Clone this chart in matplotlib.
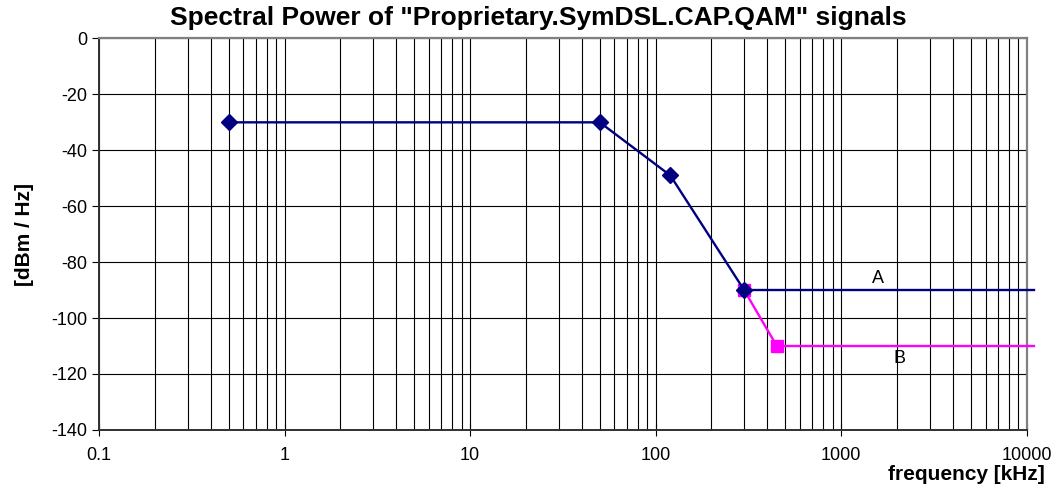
import numpy as np
import matplotlib.pyplot as plt
from matplotlib.ticker import LogLocator, FixedLocator, NullFormatter

plt.rcParams['font.family'] = ['Liberation Sans', 'DejaVu Sans']
plt.rcParams['axes.unicode_minus'] = False

# series A (navy, diamonds) and B (magenta, squares)
freq_a = [0.5, 50, 120, 300]
power_a = [-30, -30, -49, -90]
freq_a_tail = [300, 11000]
power_a_tail = [-90, -90]

freq_b = [300, 450]
power_b = [-90, -110]
freq_b_tail = [450, 11000]
power_b_tail = [-110, -110]

xticks = [0.1, 1, 10, 100, 1000, 10000]
xticklabels = ['0.1', '1', '10', '100', '1000', '10000']
yticks = [0, -20, -40, -60, -80, -100, -120, -140]

series_names = ['A', 'B']
name_x = [1570, 2070]
name_y = [-86, -114.5]

fig = plt.figure(figsize=(10.59, 4.93), dpi=100)
ax = fig.add_axes([0.0935, 0.128, 0.876, 0.794])

ax.set_xscale('log')
ax.set_xlim(0.1, 10000)
ax.set_ylim(-140, 0)

ax.xaxis.set_major_locator(FixedLocator(xticks))
ax.set_xticks(xticks, xticklabels)
ax.xaxis.set_minor_locator(LogLocator(base=10, subs=np.arange(2, 10)))
ax.xaxis.set_minor_formatter(NullFormatter())
ax.set_yticks(yticks)

ax.grid(True, which='both', axis='x', color='black', lw=0.8)
ax.grid(True, which='major', axis='y', color='black', lw=0.8)

ax.tick_params(axis='x', which='major', direction='inout', length=8, labelsize=13, pad=8)
ax.tick_params(axis='x', which='minor', length=0)
ax.tick_params(axis='y', which='major', direction='out', length=5, labelsize=13)

for side in ['top', 'right']:
    ax.spines[side].set_color('#808080')
    ax.spines[side].set_linewidth(1.6)
for side in ['left', 'bottom']:
    ax.spines[side].set_color('#303030')
    ax.spines[side].set_linewidth(1.4)

navy = '#000080'
pink = '#FF00FF'
ax.plot(freq_b_tail, power_b_tail, color=pink, lw=1.7, clip_on=False, zorder=3)
ax.plot(freq_b, power_b, color=pink, lw=1.7, marker='s', ms=9, zorder=4)
ax.plot(freq_a_tail, power_a_tail, color=navy, lw=1.7, clip_on=False, zorder=5)
ax.plot(freq_a, power_a, color=navy, lw=1.7, marker='D', ms=8.5, zorder=6)

for name, x, y in zip(series_names, name_x, name_y):
    ax.text(x, y, name, fontsize=13, ha='center', va='center')

fig.text(0.508, 0.94, 'Spectral Power of "Proprietary.SymDSL.CAP.QAM" signals',
         fontsize=19, fontweight='bold', ha='center', va='bottom')
ax.set_ylabel('[dBm / Hz]', fontsize=15, fontweight='bold', labelpad=12)
fig.text(0.987, 0.018, 'frequency [kHz]', fontsize=15, fontweight='bold',
         ha='right', va='bottom')

plt.savefig('out.png', dpi=100)
